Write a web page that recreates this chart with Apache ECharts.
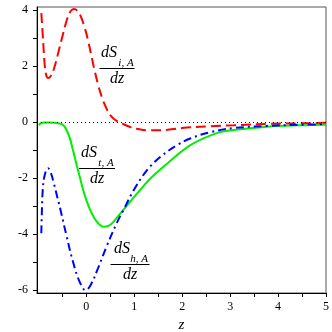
<!DOCTYPE html>
<html>
<head>
<meta charset="utf-8">
<script src="https://cdn.jsdelivr.net/npm/echarts@6/dist/echarts.min.js"></script>
<style>
  html, body { margin: 0; padding: 0; background: #fff; }
  #chart { width: 332px; height: 332px; }
</style>
</head>
<body>
<div id="chart"></div>
<script>
// dS_i,A / dz  (red, dashed)
const redX = [-0.94, -0.91, -0.87, -0.84, -0.80, -0.75, -0.68, -0.60, -0.50, -0.40, -0.33, -0.26, -0.19, -0.12, -0.05, 0.03, 0.10, 0.17, 0.25, 0.33, 0.42, 0.52, 0.63, 0.75, 0.90, 1.05, 1.34, 1.69, 2.10, 2.60, 3.08, 3.77, 4.46, 5.00];
const redY = [3.88, 3.10, 2.05, 1.68, 1.57, 1.62, 1.88, 2.38, 3.05, 3.68, 3.95, 4.03, 3.97, 3.78, 3.45, 2.95, 2.40, 1.85, 1.30, 0.85, 0.48, 0.20, 0.04, -0.06, -0.17, -0.24, -0.30, -0.28, -0.20, -0.15, -0.12, -0.07, -0.05, -0.03];

// dS_t,A / dz  (green, solid)
const greenX = [-0.99, -0.95, -0.88, -0.78, -0.66, -0.55, -0.48, -0.42, -0.35, -0.28, -0.20, -0.12, -0.04, 0.05, 0.15, 0.25, 0.36, 0.47, 0.56, 0.78, 1.06, 1.34, 1.69, 2.18, 2.72, 3.07, 3.77, 4.46, 5.00];
const greenY = [-0.12, -0.04, -0.02, -0.02, -0.03, -0.06, -0.12, -0.27, -0.55, -1.00, -1.55, -2.08, -2.58, -3.02, -3.38, -3.62, -3.74, -3.70, -3.57, -3.12, -2.55, -2.01, -1.48, -0.82, -0.40, -0.29, -0.17, -0.12, -0.10];

// dS_h,A / dz  (blue, dash-dot)
const blueX = [-0.94, -0.93, -0.91, -0.87, -0.80, -0.74, -0.68, -0.60, -0.52, -0.42, -0.28, -0.14, -0.015, 0.10, 0.24, 0.42, 0.63, 0.78, 0.99, 1.27, 1.55, 1.90, 2.18, 2.60, 3.07, 3.77, 4.46, 5.00];
const blueY = [-3.97, -3.30, -2.43, -1.90, -1.65, -1.82, -2.18, -2.72, -3.28, -4.02, -4.98, -5.70, -6.00, -5.78, -5.23, -4.45, -3.62, -3.12, -2.43, -1.71, -1.24, -0.82, -0.58, -0.36, -0.22, -0.14, -0.10, -0.08];

// ticks
const xLabels = [0, 1, 2, 3, 4, 5];
const xTicks = [-0.5, 0, 0.5, 1, 1.5, 2, 2.5, 3, 3.5, 4, 4.5, 5];
const yLabels = [-6, -4, -2, 0, 2, 4];
const yTicks = [-6, -5, -4, -3, -2, -1, 0, 1, 2, 3, 4];

const pairs = (xs, ys) => xs.map((x, i) => [x, ys[i]]);

const serif = '"Liberation Serif", "DejaVu Serif", serif';

// fraction label: dS_sub over dz
function fracLabel(cx, top, sub, lineW) {
  return [
    { type: 'text', x: cx - 8, y: top + 5, style: { text: 'dS', font: 'italic 16px ' + serif, fill: '#000', textAlign: 'center', textVerticalAlign: 'middle' } },
    { type: 'text', x: cx + 9, y: top + 15, style: { text: sub, font: 'italic 11px ' + serif, fill: '#000', textAlign: 'center', textVerticalAlign: 'middle' } },
    { type: 'line', shape: { x1: cx - lineW / 2, y1: top + 20.5, x2: cx + lineW / 2, y2: top + 20.5 }, style: { stroke: '#000', lineWidth: 1 } },
    { type: 'text', x: cx, y: top + 31, style: { text: 'dz', font: 'italic 16px ' + serif, fill: '#000', textAlign: 'center', textVerticalAlign: 'middle' } }
  ];
}

const chart = echarts.init(document.getElementById('chart'));

const option = {
  animation: false,
  grid: {
    left: 37, right: 6, top: 7, bottom: 39,
    containLabel: false, outerBoundsMode: 'none',
    show: true, borderColor: '#555', borderWidth: 1
  },
  xAxis: {
    type: 'value',
    min: -1.03, max: 5,
    name: 'z',
    nameLocation: 'middle',
    nameGap: 21,
    nameTextStyle: { fontFamily: serif, fontStyle: 'italic', fontSize: 15, color: '#000' },
    axisLine: { onZero: false, lineStyle: { color: '#000', width: 1 } },
    axisTick: { customValues: xTicks, length: 4, lineStyle: { color: '#000' } },
    axisLabel: { customValues: xLabels, fontFamily: serif, fontSize: 12, color: '#000', margin: 8 },
    splitLine: { show: false }
  },
  yAxis: {
    type: 'value',
    min: -6.1, max: 4.1,
    axisLine: { show: true, onZero: false, lineStyle: { color: '#000', width: 1 } },
    axisTick: { show: true, customValues: yTicks, length: 4, lineStyle: { color: '#000' } },
    axisLabel: { customValues: yLabels, fontFamily: serif, fontSize: 12, color: '#000', margin: 9 },
    splitLine: { show: false }
  },
  series: [
    {
      type: 'line', name: 'dSi', data: pairs(redX, redY),
      showSymbol: false, smooth: 0.4, z: 3,
      lineStyle: { color: '#ff0000', width: 2, type: [10, 5] },
      markLine: {
        silent: true, symbol: 'none', label: { show: false },
        lineStyle: { color: '#000', width: 1, type: [1, 3] },
        data: [{ yAxis: 0 }]
      }
    },
    {
      type: 'line', name: 'dSt', data: pairs(greenX, greenY),
      showSymbol: false, smooth: 0.4, z: 3,
      lineStyle: { color: '#00ee00', width: 2 }
    },
    {
      type: 'line', name: 'dSh', data: pairs(blueX, blueY),
      showSymbol: false, smooth: 0.4, z: 3,
      lineStyle: { color: '#0000ff', width: 2, type: [8, 4, 2, 4] }
    }
  ],
  graphic: [
    ...fracLabel(117, 48, 'i, A', 35),
    ...fracLabel(97, 148, 't, A', 36),
    ...fracLabel(130, 244, 'h, A', 39)
  ]
};

chart.setOption(option);
</script>
</body>
</html>
